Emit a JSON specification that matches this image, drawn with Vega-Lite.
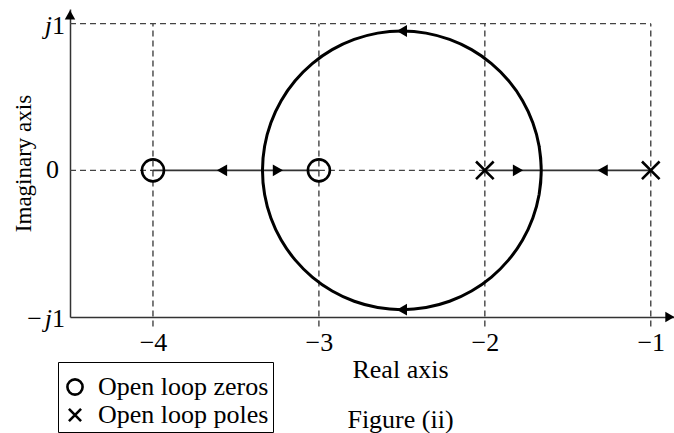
{
  "$schema": "https://vega.github.io/schema/vega-lite/v6.json",
  "width": 604,
  "height": 308,
  "autosize": "none",
  "padding": {"left": 70, "top": 9, "right": 0, "bottom": 116},
  "datasets": {
    "grid": [
      {"x": -4.5, "x2": -1, "y": 1, "y2": 1},
      {"x": -4.5, "x2": -4, "y": 0, "y2": 0},
      {"x": -3, "x2": -2, "y": 0, "y2": 0},
      {"x": -4, "x2": -4, "y": -1.065, "y2": 1},
      {"x": -3, "x2": -3, "y": -1.065, "y2": 1},
      {"x": -2, "x2": -2, "y": -1.065, "y2": 1},
      {"x": -1, "x2": -1, "y": -1.065, "y2": 1}
    ],
    "locus": [
      {"x": -4, "x2": -3, "y": 0, "y2": 0},
      {"x": -2, "x2": -1, "y": 0, "y2": 0}
    ],
    "circle": [
      {"i": 0, "x": -1.6728, "y": -0.1649},
      {"i": 1, "x": -1.66, "y": 0},
      {"i": 2, "x": -1.6728, "y": 0.1649},
      {"i": 3, "x": -1.7107, "y": 0.3249},
      {"i": 4, "x": -1.7726, "y": 0.475},
      {"i": 5, "x": -1.8566, "y": 0.6107},
      {"i": 6, "x": -1.96, "y": 0.7277},
      {"i": 7, "x": -2.08, "y": 0.8227},
      {"i": 8, "x": -2.2127, "y": 0.8927},
      {"i": 9, "x": -2.3542, "y": 0.9356},
      {"i": 10, "x": -2.5, "y": 0.95},
      {"i": 11, "x": -2.6458, "y": 0.9356},
      {"i": 12, "x": -2.7873, "y": 0.8927},
      {"i": 13, "x": -2.92, "y": 0.8227},
      {"i": 14, "x": -3.04, "y": 0.7277},
      {"i": 15, "x": -3.1434, "y": 0.6107},
      {"i": 16, "x": -3.2274, "y": 0.475},
      {"i": 17, "x": -3.2893, "y": 0.3249},
      {"i": 18, "x": -3.3272, "y": 0.1649},
      {"i": 19, "x": -3.34, "y": 0},
      {"i": 20, "x": -3.3272, "y": -0.1649},
      {"i": 21, "x": -3.2893, "y": -0.3249},
      {"i": 22, "x": -3.2274, "y": -0.475},
      {"i": 23, "x": -3.1434, "y": -0.6107},
      {"i": 24, "x": -3.04, "y": -0.7277},
      {"i": 25, "x": -2.92, "y": -0.8227},
      {"i": 26, "x": -2.7873, "y": -0.8927},
      {"i": 27, "x": -2.6458, "y": -0.9356},
      {"i": 28, "x": -2.5, "y": -0.95},
      {"i": 29, "x": -2.3542, "y": -0.9356},
      {"i": 30, "x": -2.2127, "y": -0.8927},
      {"i": 31, "x": -2.08, "y": -0.8227},
      {"i": 32, "x": -1.96, "y": -0.7277},
      {"i": 33, "x": -1.8566, "y": -0.6107},
      {"i": 34, "x": -1.7726, "y": -0.475},
      {"i": 35, "x": -1.7107, "y": -0.3249},
      {"i": 36, "x": -1.6728, "y": -0.1649},
      {"i": 37, "x": -1.66, "y": 0},
      {"i": 38, "x": -1.6728, "y": 0.1649}
    ],
    "arrows": [
      {"x": -3.584, "y": 0, "dir": "triangle-left"},
      {"x": -3.247, "y": 0, "dir": "triangle-right"},
      {"x": -1.8, "y": 0, "dir": "triangle-right"},
      {"x": -1.29, "y": 0, "dir": "triangle-left"},
      {"x": -2.5, "y": 0.95, "dir": "triangle-left"},
      {"x": -2.5, "y": -0.95, "dir": "triangle-left"}
    ],
    "axisHeads": [
      {"x": -0.885, "y": -1, "dir": "triangle-right"},
      {"x": -4.5, "y": 1.06, "dir": "triangle-up"}
    ],
    "roots": [
      {"x": -4, "y": 0, "type": "Open loop zeros"},
      {"x": -3, "y": 0, "type": "Open loop zeros"},
      {"x": -2, "y": 0, "type": "Open loop poles"},
      {"x": -1, "y": 0, "type": "Open loop poles"}
    ],
    "ylabNum": [
      {"x": -4.5, "y": 1, "t": "1"},
      {"x": -4.5, "y": -1, "t": "1"}
    ],
    "ylabZero": [
      {"x": -4.5, "y": 0, "t": "0"}
    ],
    "ylabJ": [
      {"x": -4.5, "y": 1, "t": "j"},
      {"x": -4.5, "y": -1, "t": "j"}
    ],
    "ylabMinus": [
      {"x": -4.5, "y": -1, "t": "−"}
    ]
  },
  "encoding": {
    "x": {
      "field": "x", "type": "quantitative",
      "scale": {"domain": [-4.5, -0.86], "nice": false, "zero": false},
      "axis": {
        "values": [-4, -3, -2, -1], "ticks": false, "tickSize": 0, "grid": false,
        "domainColor": "#333", "domainWidth": 1.5,
        "labelFont": "Liberation Serif", "labelFontSize": 26, "labelColor": "black",
        "labelBaseline": "alphabetic", "labelPadding": 33, "labelDx": -6,
        "title": ["Real axis", "Figure (ii)"], "titleFont": "Liberation Serif", "titleFontSize": 26,
        "titleFontWeight": "normal", "titleColor": "black", "titleLineHeight": 50,
        "titleBaseline": "alphabetic", "titleX": 330, "titleY": 60
      }
    },
    "y": {
      "field": "y", "type": "quantitative",
      "scale": {"domain": [-1, 1.1], "nice": false, "zero": false},
      "axis": {
        "labels": false, "ticks": false, "tickSize": 0, "grid": false,
        "domainColor": "#333", "domainWidth": 1.5,
        "title": "Imaginary axis", "titleFont": "Liberation Serif", "titleFontSize": 23,
        "titleFontWeight": "normal", "titleColor": "black",
        "titleBaseline": "alphabetic", "titlePadding": 40
      }
    }
  },
  "layer": [
    {
      "data": {"name": "grid"},
      "mark": {"type": "rule", "color": "#444", "strokeWidth": 1.4, "strokeDash": [6, 4]},
      "encoding": {"x2": {"field": "x2"}, "y2": {"field": "y2"}}
    },
    {
      "data": {"name": "locus"},
      "mark": {"type": "rule", "color": "#333", "strokeWidth": 1.8},
      "encoding": {"x2": {"field": "x2"}, "y2": {"field": "y2"}}
    },
    {
      "data": {"name": "circle"},
      "mark": {"type": "line", "color": "black", "strokeWidth": 3, "interpolate": "catmull-rom"},
      "encoding": {"order": {"field": "i", "type": "quantitative"}}
    },
    {
      "data": {"name": "roots"},
      "mark": {"type": "point", "filled": false, "color": "black", "size": 484, "strokeWidth": 2.6, "opacity": 1},
      "encoding": {
        "shape": {
          "field": "type", "type": "nominal",
          "scale": {"domain": ["Open loop zeros", "Open loop poles"], "range": ["circle", "M-0.8,-0.8L0.8,0.8M-0.8,0.8L0.8,-0.8"]},
          "legend": {
            "orient": "none", "legendX": -12, "legendY": 353,
            "title": " ", "titleFontSize": 6, "titlePadding": 2,
            "strokeColor": "black", "padding": 4,
            "labelFont": "Liberation Serif", "labelFontSize": 26, "labelColor": "black",
            "labelOffset": 10, "rowPadding": 2, "labelLimit": 400,
            "symbolSize": 230, "symbolStrokeWidth": 2.6, "symbolStrokeColor": "black", "symbolFillColor": "transparent",
            "encode": {
              "legend": {"strokeWidth": {"value": 2}},
              "symbols": {"fill": {"value": "transparent"}, "stroke": {"value": "black"}, "strokeWidth": {"value": 2.6}}
            }
          }
        }
      }
    },
    {
      "data": {"name": "arrows"},
      "mark": {"type": "point", "filled": true, "color": "black", "size": 140, "opacity": 1},
      "encoding": {"shape": {"field": "dir", "type": "nominal", "scale": null, "legend": null}}
    },
    {
      "data": {"name": "axisHeads"},
      "mark": {"type": "point", "filled": true, "color": "black", "size": 110, "opacity": 1},
      "encoding": {"shape": {"field": "dir", "type": "nominal", "scale": null, "legend": null}}
    },
    {
      "data": {"name": "ylabNum"},
      "mark": {"type": "text", "align": "right", "baseline": "middle", "dx": -5, "dy": 2, "font": "Liberation Serif", "fontSize": 26, "color": "black"},
      "encoding": {"text": {"field": "t"}}
    },
    {
      "data": {"name": "ylabZero"},
      "mark": {"type": "text", "align": "right", "baseline": "middle", "dx": -11, "dy": 0, "font": "Liberation Serif", "fontSize": 26, "color": "black"},
      "encoding": {"text": {"field": "t"}}
    },
    {
      "data": {"name": "ylabJ"},
      "mark": {"type": "text", "align": "right", "baseline": "middle", "dx": -18, "dy": 2, "font": "Liberation Serif", "fontStyle": "italic", "fontSize": 26, "color": "black"},
      "encoding": {"text": {"field": "t"}}
    },
    {
      "data": {"name": "ylabMinus"},
      "mark": {"type": "text", "align": "right", "baseline": "middle", "dx": -28, "dy": 2, "font": "Liberation Serif", "fontSize": 26, "color": "black"},
      "encoding": {"text": {"field": "t"}}
    }
  ],
  "config": {"view": {"stroke": null}, "font": "Liberation Serif", "background": "white"}
}
